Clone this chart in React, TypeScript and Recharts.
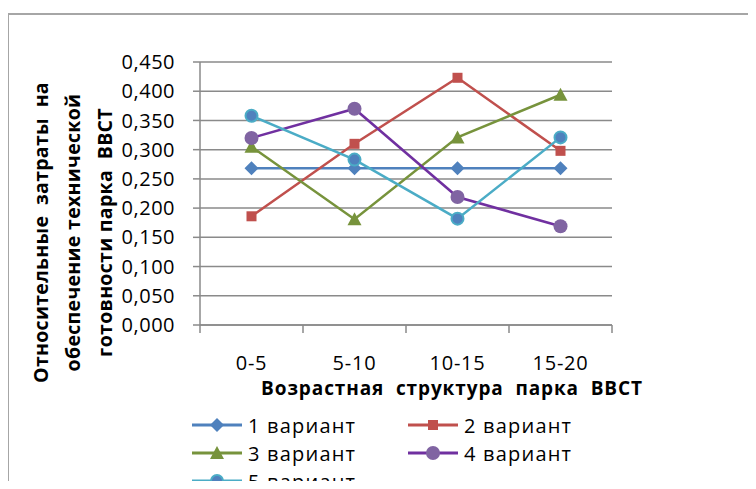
import { CartesianGrid, Line, LineChart, XAxis, YAxis } from 'recharts'

const categories = ['0-5', '5-10', '10-15', '15-20']
const variant1 = [0.268, 0.268, 0.268, 0.268]
const variant2 = [0.186, 0.31, 0.423, 0.298]
const variant3 = [0.305, 0.181, 0.321, 0.394]
const variant4 = [0.32, 0.37, 0.219, 0.169]
const variant5 = [0.358, 0.283, 0.182, 0.321]
const yTicks = [0, 0.05, 0.1, 0.15, 0.2, 0.25, 0.3, 0.35, 0.4, 0.45]
const seriesNames = ['1 вариант', '2 вариант', '3 вариант', '4 вариант', '5 вариант']
const yTitleLines = ['Относительные  затраты  на', 'обеспечение технической', 'готовности парка  ВВСТ']
const xTitle = 'Возрастная  структура  парка  ВВСТ'

const FONT = '"Open Sans", sans-serif'
const GRID = '#8a8a8a'

const chartData = categories.map((cat, i) => ({
  cat,
  v1: variant1[i],
  v2: variant2[i],
  v3: variant3[i],
  v4: variant4[i],
  v5: variant5[i],
}))

type Marker = 'diamond' | 'square' | 'triangle' | 'circle' | 'ring'

const series: { key: string; line: string; fill: string; marker: Marker }[] = [
  { key: 'v1', line: '#4f81bd', fill: '#4f81bd', marker: 'diamond' },
  { key: 'v2', line: '#c0504d', fill: '#c0504d', marker: 'square' },
  { key: 'v3', line: '#77933c', fill: '#77933c', marker: 'triangle' },
  { key: 'v4', line: '#7030a0', fill: '#8064a2', marker: 'circle' },
  { key: 'v5', line: '#4bacc6', fill: '#4f81bd', marker: 'ring' },
]

function markerShape(kind: Marker, cx: number, cy: number, fill: string, line: string) {
  switch (kind) {
    case 'diamond':
      return <path d={`M${cx},${cy - 7}L${cx + 7},${cy}L${cx},${cy + 7}L${cx - 7},${cy}Z`} fill={fill} />
    case 'square':
      return <rect x={cx - 5} y={cy - 5} width={10} height={10} fill={fill} />
    case 'triangle':
      return <path d={`M${cx},${cy - 7}L${cx + 7},${cy + 6}L${cx - 7},${cy + 6}Z`} fill={fill} />
    case 'circle':
      return <circle cx={cx} cy={cy} r={7} fill={fill} />
    default:
      return <circle cx={cx} cy={cy} r={6} fill={fill} stroke={line} strokeWidth={2} />
  }
}

function XTick(props: any) {
  const { x, y, payload, index } = props
  const off = payload.offset ?? 0
  return (
    <g>
      <line x1={x - off} x2={x - off} y1={y} y2={y + 8} stroke={GRID} strokeWidth={1.5} />
      {index === categories.length - 1 && (
        <line x1={x + off} x2={x + off} y1={y} y2={y + 8} stroke={GRID} strokeWidth={1.5} />
      )}
      <text x={x} y={y + 45} textAnchor="middle" fontSize={20} fontFamily={FONT} fill="#000" letterSpacing={0.8}>
        {payload.value}
      </text>
    </g>
  )
}

function XTitle(props: any) {
  const vb = props.viewBox
  return (
    <text
      x={vb.x + vb.width / 2 + 46}
      y={vb.y + 70}
      textAnchor="middle"
      fontSize={19}
      fontWeight="bold"
      fontFamily={FONT}
      fill="#000"
      letterSpacing={0.9}
      style={{ whiteSpace: 'pre' }}
    >
      {xTitle}
    </text>
  )
}

function YTitle(props: any) {
  const vb = props.viewBox
  const cy = vb.y + vb.height / 2 + 39
  const xs = [40, 72, 104]
  return (
    <g>
      {yTitleLines.map((t, i) => (
        <text
          key={t}
          x={xs[i]}
          y={cy}
          transform={`rotate(-90 ${xs[i]} ${cy})`}
          textAnchor="middle"
          dominantBaseline="central"
          fontSize={19.5}
          fontWeight="bold"
          fontFamily={FONT}
          fill="#000"
          letterSpacing={0.3}
          style={{ whiteSpace: 'pre' }}
        >
          {t}
        </text>
      ))}
    </g>
  )
}

function LegendBlock() {
  const cols = [191, 407]
  const rows = [425, 453, 481]
  return (
    <>
      {series.map((s, i) => {
        const left = cols[i % 2]
        const top = rows[Math.floor(i / 2)]
        return (
          <div key={s.key} style={{ position: 'absolute', left, top: top - 14, height: 28, display: 'flex', alignItems: 'center' }}>
            <svg width={52} height={28}>
              <line x1={1} x2={51} y1={14} y2={14} stroke={s.line} strokeWidth={3} />
              {markerShape(s.marker, 26, 14, s.fill, s.line)}
            </svg>
            <span style={{ marginLeft: 5, fontFamily: FONT, fontSize: 20, letterSpacing: 1.2, color: '#000', whiteSpace: 'nowrap' }}>
              {seriesNames[i]}
            </span>
          </div>
        )
      })}
    </>
  )
}

export default function App() {
  return (
    <div style={{ position: 'relative', width: 756, height: 489, margin: -8, overflow: 'hidden', background: '#fff' }}>
      <div style={{ position: 'absolute', left: 7, top: 13, width: 780, height: 500, border: '2px solid #a6a6a6' }} />
      <div style={{ position: 'absolute', left: 0, top: 0 }}>
        <LineChart width={756} height={489} data={chartData} margin={{ top: 62, right: 144, bottom: 124, left: 0 }}>
          <CartesianGrid vertical={false} stroke={GRID} strokeWidth={1.5} />
          <XAxis
            dataKey="cat"
            scale="band"
            height={40}
            stroke={GRID}
            strokeWidth={1.5}
            tickLine={false}
            tickSize={0}
            tickMargin={0}
            tick={<XTick />}
            interval={0}
            label={<XTitle />}
          />
          <YAxis
            width={200}
            domain={[0, 0.45]}
            ticks={yTicks}
            interval={0}
            stroke={GRID}
            strokeWidth={1.5}
            tickSize={7}
            tickMargin={18}
            tickFormatter={(v: number) => v.toFixed(3).replace('.', ',')}
            tick={{ fill: '#000', fontSize: 20, fontFamily: FONT, letterSpacing: 0.5 }}
            label={<YTitle />}
          />
          {series.map((s) => (
            <Line
              key={s.key}
              dataKey={s.key}
              stroke={s.line}
              strokeWidth={2.5}
              isAnimationActive={false}
              dot={(p: any) => <g key={`${s.key}-${p.index}`}>{markerShape(s.marker, p.cx, p.cy, s.fill, s.line)}</g>}
              activeDot={false}
            />
          ))}
        </LineChart>
      </div>
      <LegendBlock />
    </div>
  )
}
